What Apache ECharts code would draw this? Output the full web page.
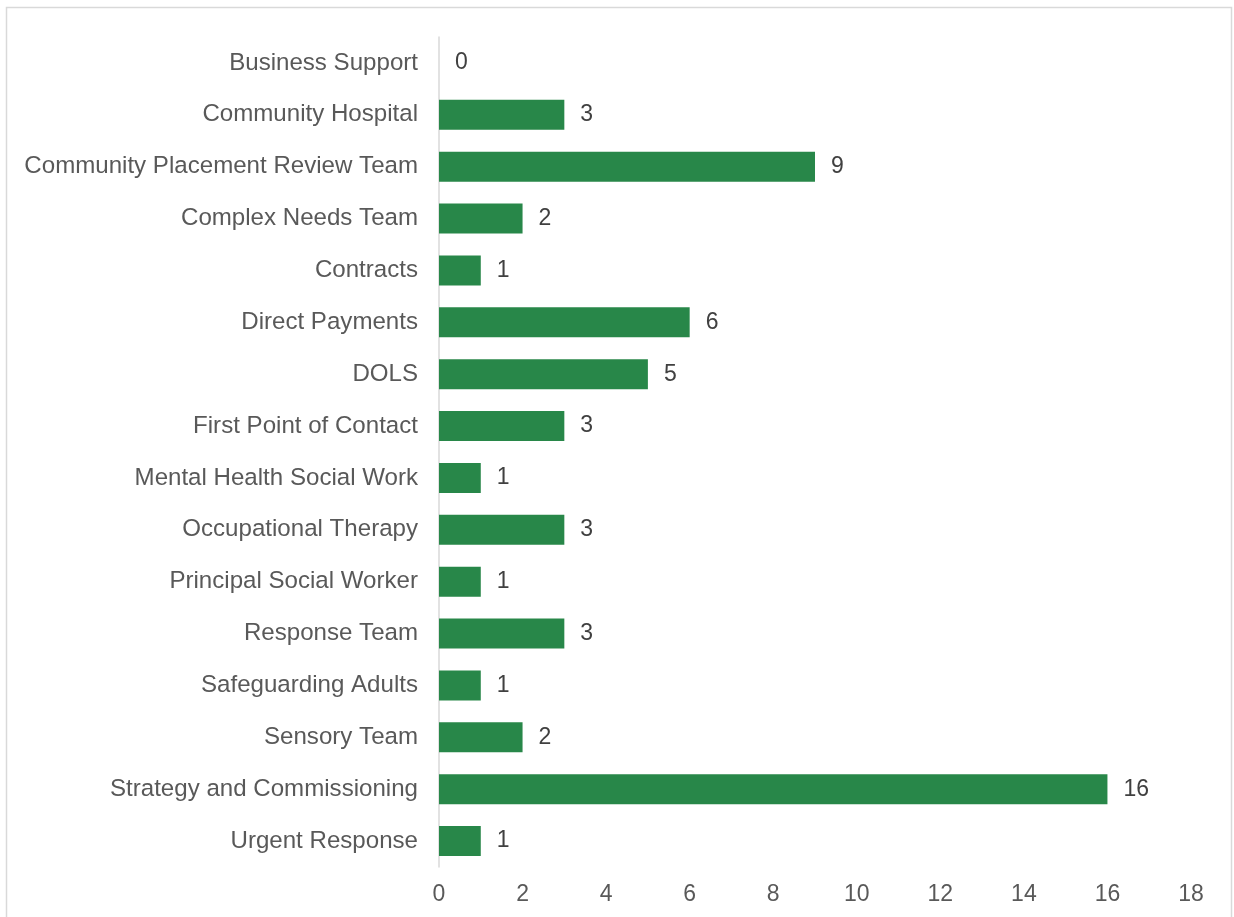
<!DOCTYPE html>
<html>
<head>
<meta charset="utf-8">
<script src="https://cdn.jsdelivr.net/npm/echarts@6/dist/echarts.min.js"></script>
<style>
  html, body { margin: 0; padding: 0; background: #fff; }
  #chart { width: 1234px; height: 917px; }
</style>
</head>
<body>
<div id="chart"></div>
<script>
// Teams and the number of responses from each
const teams = [
  'Business Support',
  'Community Hospital',
  'Community Placement Review Team',
  'Complex Needs Team',
  'Contracts',
  'Direct Payments',
  'DOLS',
  'First Point of Contact',
  'Mental Health Social Work',
  'Occupational Therapy',
  'Principal Social Worker',
  'Response Team',
  'Safeguarding Adults',
  'Sensory Team',
  'Strategy and Commissioning',
  'Urgent Response'
];
const counts = [0, 3, 9, 2, 1, 6, 5, 3, 1, 3, 1, 3, 1, 2, 16, 1];

const FONT = '"Liberation Sans", Arial, sans-serif';

const chart = echarts.init(document.getElementById('chart'), null, { renderer: 'canvas' });
chart.setOption({
  backgroundColor: '#ffffff',
  animation: false,
  graphic: [{
    type: 'rect',
    shape: { x: 6.5, y: 7.5, width: 1225, height: 930 },
    style: { fill: 'none', stroke: '#d9d9d9', lineWidth: 1.5 },
    silent: true
  }],
  grid: { left: 439, right: 43, top: 37, bottom: 50, containLabel: false },
  xAxis: {
    type: 'value',
    min: 0,
    max: 18,
    interval: 2,
    axisLine: { show: false },
    axisTick: { show: false },
    splitLine: { show: false },
    axisLabel: { color: '#595959', fontSize: 23, fontFamily: FONT, margin: 16 }
  },
  yAxis: {
    type: 'category',
    data: teams,
    inverse: true,
    axisLine: { show: true, lineStyle: { color: '#d9d9d9', width: 1.5 } },
    axisTick: { show: false },
    axisLabel: { color: '#595959', fontSize: 24.1, fontFamily: FONT, margin: 21 }
  },
  series: [{
    type: 'bar',
    data: counts,
    barCategoryGap: '42%',
    itemStyle: { color: '#288749' },
    label: {
      show: true,
      position: 'right',
      distance: 16,
      color: '#404040',
      fontSize: 23,
      fontFamily: FONT
    }
  }]
});
</script>
</body>
</html>
